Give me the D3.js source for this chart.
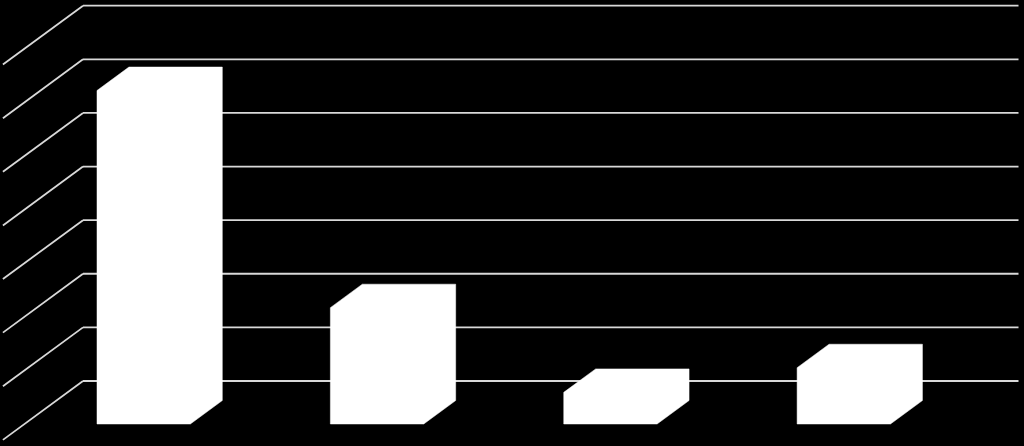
<!DOCTYPE html>
<html>
<head>
<meta charset="utf-8">
<script src="https://cdn.jsdelivr.net/npm/d3@7"></script>
<style>
  html, body { margin: 0; padding: 0; background: #000; }
  svg { display: block; }
</style>
</head>
<body>
<svg id="chart" width="1024" height="446"></svg>
<script>
// Data (percent share)
const categories = ["A", "B", "C", "D"];
const values = [62.2, 21.7, 5.9, 10.5];
const tickValues = [0, 10, 20, 30, 40, 50, 60, 70];

const W = 1024, H = 446;
const svg = d3.select("#chart").attr("width", W).attr("height", H);
svg.append("rect").attr("width", W).attr("height", H).attr("fill", "#000");

// Back plane geometry
const backLeft = 83, backRight = 1018.5;
const depthX = -83, depthY = 61;     // offset from back plane to front of floor
const barDepth0 = 0.32, barDepth1 = 0.705;
const wallDepth = 0.965;

const x = d3.scaleBand().domain(categories).range([85.5, 1019])
  .paddingInner(0.6).paddingOuter(0.3);
const y = d3.scaleLinear().domain([0, 70]).range([381, 5.7]);

// Gridlines: back wall horizontals + left wall diagonals
const grid = svg.append("g").attr("stroke", "#d9d9d9").attr("stroke-width", 1.8).attr("fill", "none");
grid.selectAll("line.h").data(tickValues).join("line")
  .attr("class", "h")
  .attr("x1", backLeft).attr("x2", backRight)
  .attr("y1", d => y(d)).attr("y2", d => y(d));
grid.selectAll("line.d").data(tickValues).join("line")
  .attr("class", "d")
  .attr("x1", backLeft).attr("y1", d => y(d))
  .attr("x2", backLeft + depthX * wallDepth).attr("y2", d => y(d) + depthY * wallDepth);

// Bars
function pt(xb, yb, f) { return [xb + depthX * f, yb + depthY * f]; }
const bars = svg.append("g");
categories.forEach((c, i) => {
  const x0 = x(c), x1 = x(c) + x.bandwidth();
  const yt = y(values[i]), yb = y(0);
  const shape = [
    pt(x0, yb, barDepth1), pt(x0, yt, barDepth1), pt(x0, yt, barDepth0),
    pt(x1, yt, barDepth0), pt(x1, yb, barDepth0), pt(x1, yb, barDepth1)
  ];
  bars.append("path")
    .attr("d", d3.line()(shape) + "Z")
    .attr("fill", "#ffffff")
    .attr("stroke", "#ffffff").attr("stroke-width", 0.5);
});
</script>
</body>
</html>
